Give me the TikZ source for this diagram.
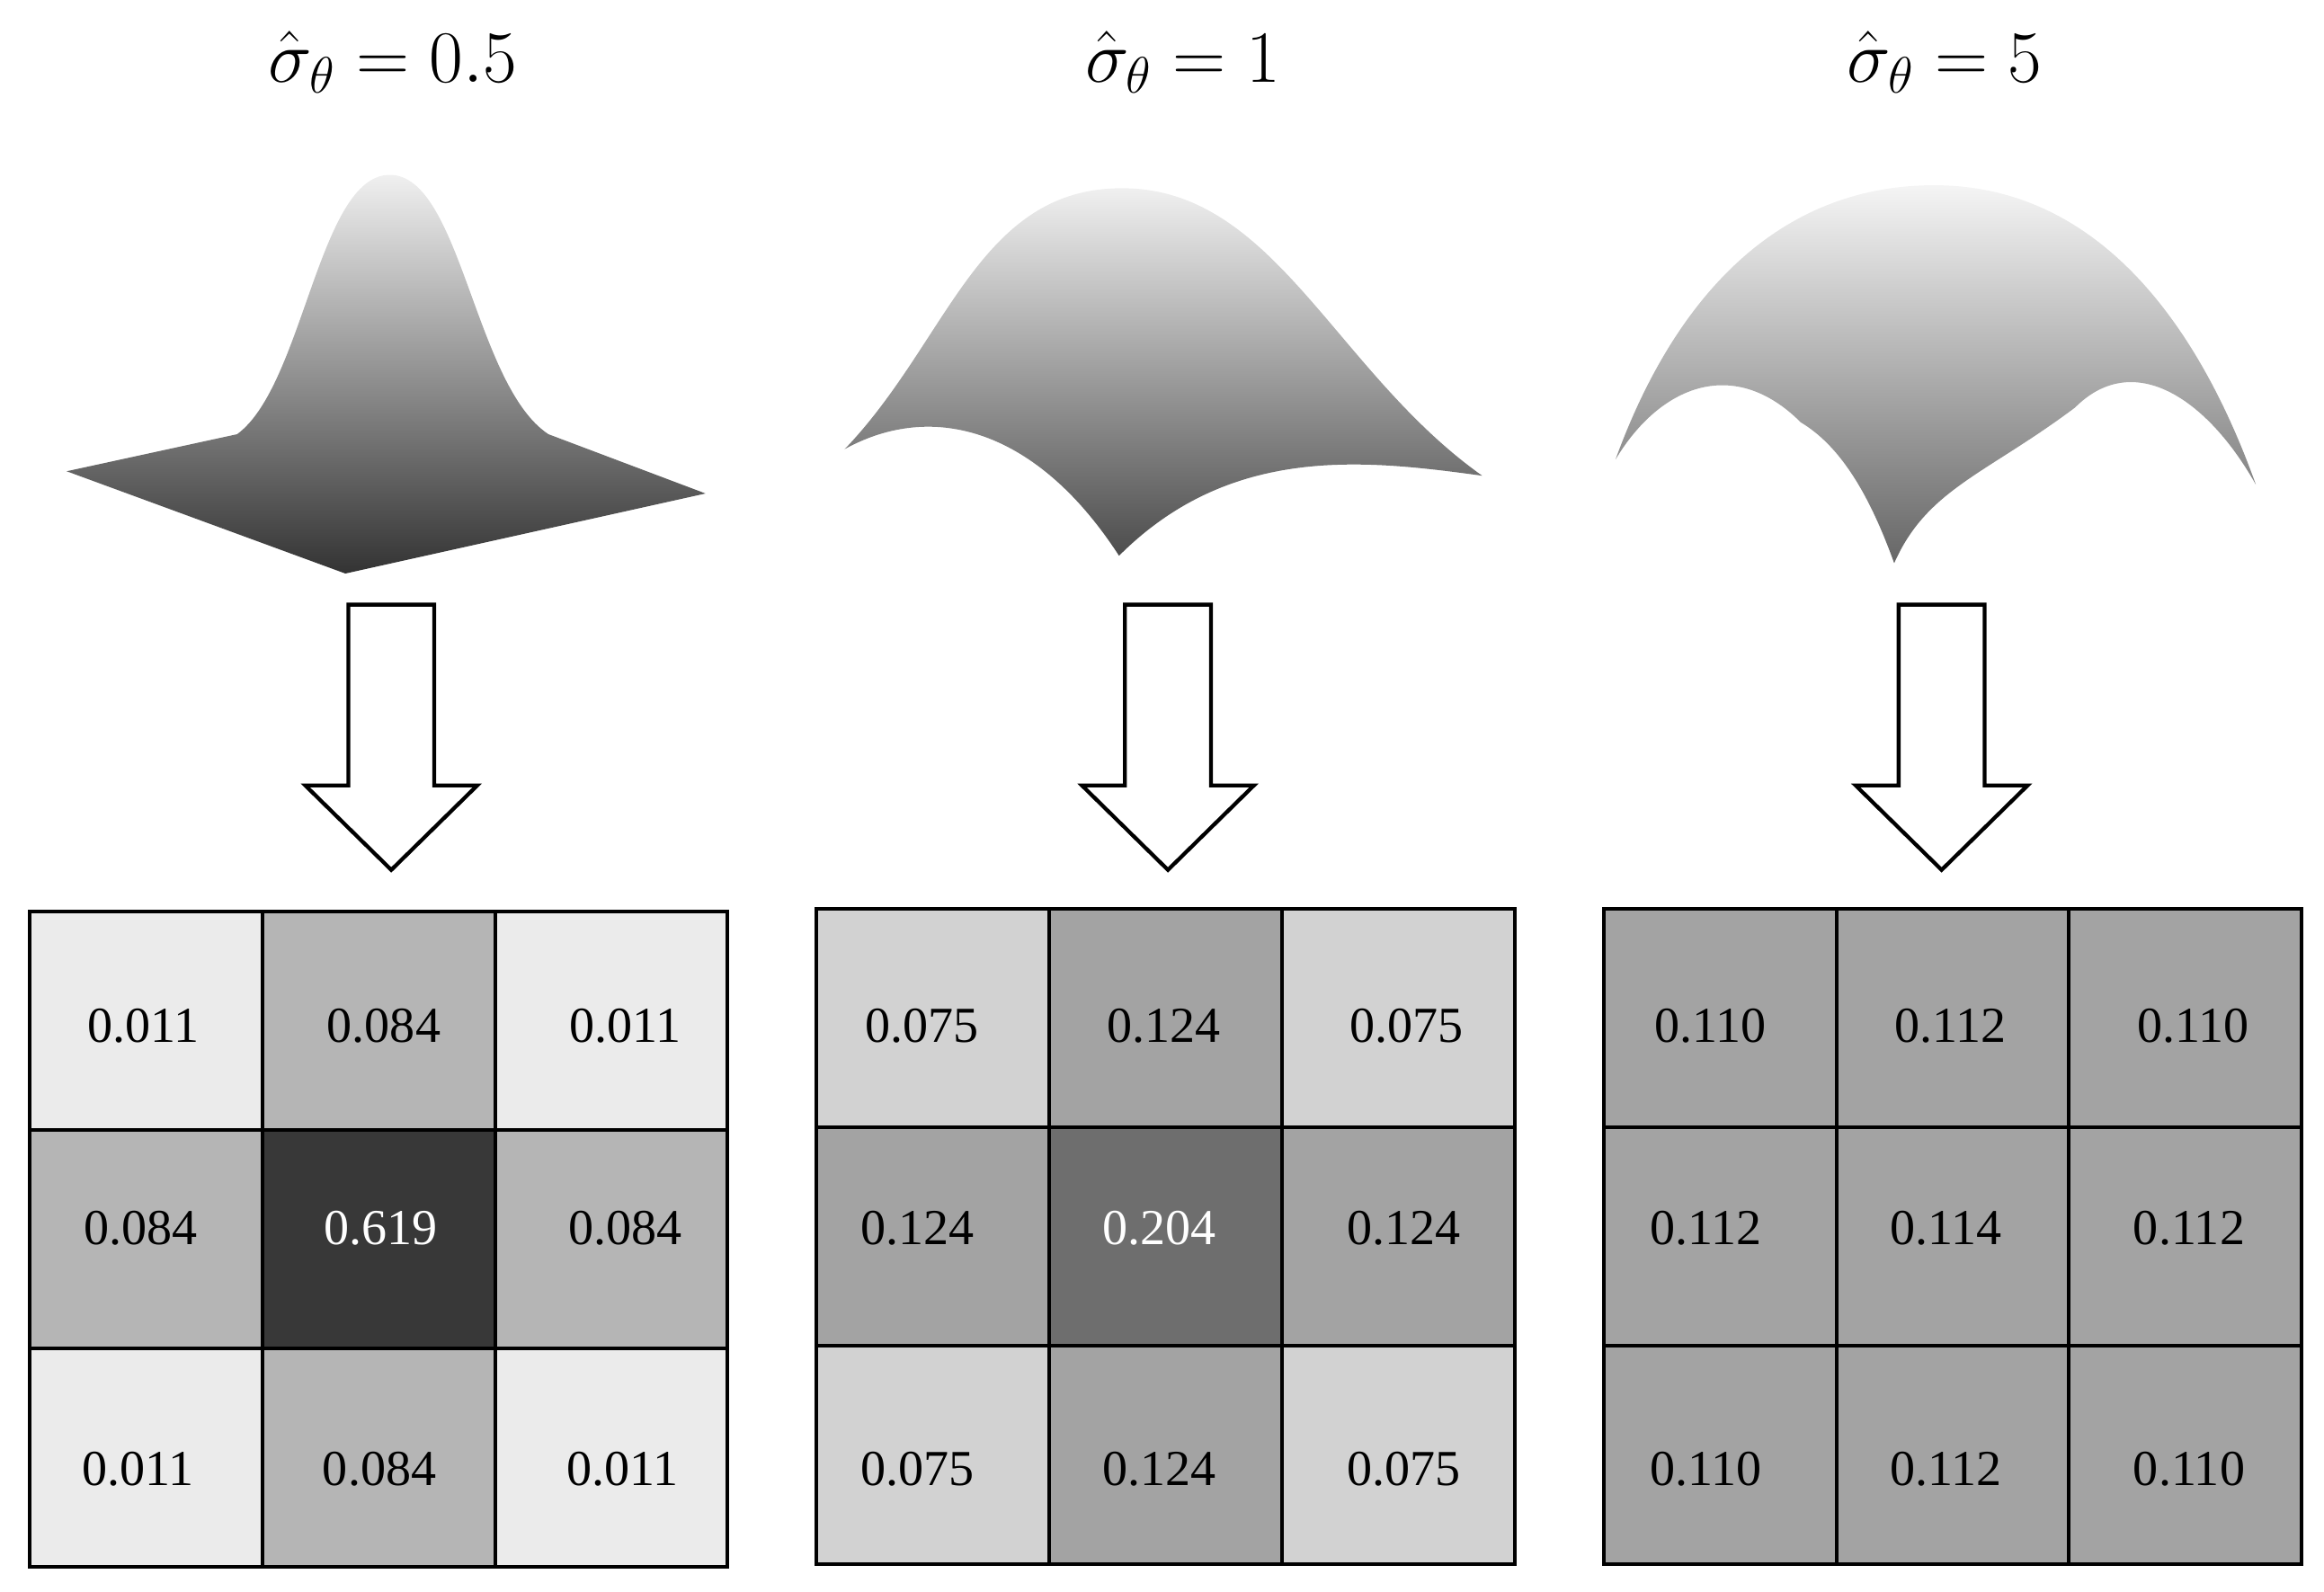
\documentclass[tikz,border=0pt]{standalone}
\usepackage{fontspec}
\setmainfont{Liberation Serif}
\begin{document}
\begin{tikzpicture}[x=0.5pt,y=-0.5pt,
  cell/.style={draw=black,line width=1.2pt},
  num/.style={font=\fontsize{17}{20}\selectfont},
  title/.style={font=\fontsize{26}{30}\selectfont},
  barrow/.style={draw=black,line width=1.3pt,fill=white},
  surf/.style={top color=gray!12,bottom color=black!80,draw=none}]
\useasboundingbox (0,0) rectangle (1568,1074);
% titles
\node[title] (t1) at (265,42) {$\hat{\sigma}_{\theta}=0.5$};
\node[title] (t2) at (798,42) {$\hat{\sigma}_{\theta}=1$};
\node[title] (t3) at (1312,42) {$\hat{\sigma}_{\theta}=5$};
% surfaces
\shade[surf] (45,318) -- (160,293) .. controls (205,260) and (215,118) .. (263,118)
  .. controls (311,118) and (320,260) .. (370,293) -- (476,333) -- (233,387) -- cycle;
\shade[surf,bottom color=black!70] (570,303) .. controls (640,230) and (660,127) .. (757,127)
  .. controls (860,127) and (900,250) .. (1000,321)
  .. controls (920,310) and (830,300) .. (755,375)
  .. controls (700,290) and (630,270) .. (570,303) -- cycle;
\shade[surf,top color=gray!8,bottom color=black!60] (1090,310) .. controls (1130,200) and (1200,125) .. (1305,125)
  .. controls (1410,125) and (1480,210) .. (1522,327)
  .. controls (1490,270) and (1440,235) .. (1400,275)
  .. controls (1340,320) and (1300,330) .. (1278,380)
  .. controls (1260,330) and (1240,300) .. (1215,285)
  .. controls (1170,240) and (1120,260) .. (1090,310) -- cycle;
% block arrows
\foreach \c/\n in {264/a1,788/a2,1310/a3}{
  \draw[barrow] (\c-29,408) -- (\c+29,408) -- (\c+29,530) -- (\c+58,530) -- (\c,587)
    -- (\c-58,530) -- (\c-29,530) -- cycle;
}
% grids
\newcommand{\grid}[6]{% x0 y0 corner edge center textcolor
  \foreach \i in {0,1,2}{\foreach \j in {0,1,2}{
    \pgfmathtruncatemacro{\k}{abs(\i-1)+abs(\j-1)}
    \ifnum\k=2 \def\cc{#3}\else\ifnum\k=1 \def\cc{#4}\else\def\cc{#5}\fi\fi
    \draw[cell,fill=\cc] (#1+157*\i,#2+147.5*\j) rectangle (#1+157*\i+157,#2+147.5*\j+147.5);
  }}}
\grid{20}{615}{gray!16}{gray!58}{black!78}{}
\grid{551}{613}{gray!35}{gray!72}{black!57}{}
\grid{1082}{613}{gray!72}{gray!72}{gray!72}{}
% numbers
\foreach \x/\y/\t [count=\q] in {
 97/692/0.011,259/692/0.084,422/692/0.011,
 95/829/0.084,422/829/0.084,
 93/991/0.011,256/991/0.084,420/991/0.011,
 622/692/0.075,785/692/0.124,949/692/0.075,
 619/829/0.124,947/829/0.124,
 619/991/0.075,782/991/0.124,947/991/0.075,
 1154/692/0.110,1316/692/0.112,1480/692/0.110,
 1151/829/0.112,1313/829/0.114,1477/829/0.112,
 1151/991/0.110,1313/991/0.112,1477/991/0.110}
 \node[num] (n\q) at (\x,\y) {\t};
\node[num,text=white] (c1) at (257,829) {0.619};
\node[num,text=white] (c2) at (782,829) {0.204};
\end{tikzpicture}
\end{document}
